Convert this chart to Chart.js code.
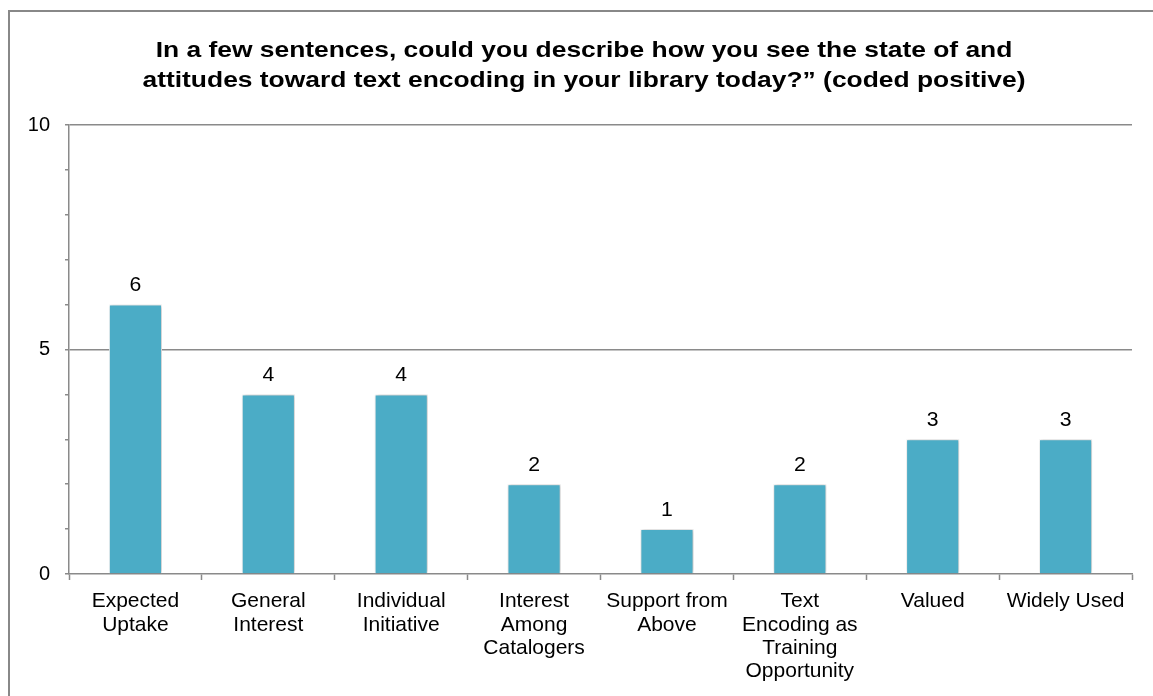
<!DOCTYPE html>
<html>
<head>
<meta charset="utf-8">
<script src="https://cdn.jsdelivr.net/npm/chart.js@4.4.1/dist/chart.umd.min.js"></script>
<style>
  html, body { margin: 0; padding: 0; background: #fff; overflow: hidden; }
  #wrap { position: absolute; left: 0; top: 0; width: 1153px; height: 696px; }
  #frame { position: absolute; left: 8px; top: 10px; width: 1200px; height: 750px; border-left: 2px solid #888; border-top: 2px solid #888; box-sizing: border-box; }
  canvas { position: absolute; left: 0; top: 0; }
</style>
</head>
<body>
<div id="wrap">
  <div id="frame"></div>
  <canvas id="c" width="1153" height="696"></canvas>
</div>
<script>
const titleLines = [
  "In a few sentences, could you describe how you see the state of and",
  "attitudes toward text encoding in your library today?\u201d (coded positive)"
];
const categories = [
  ["Expected", "Uptake"],
  ["General", "Interest"],
  ["Individual", "Initiative"],
  ["Interest", "Among", "Catalogers"],
  ["Support from", "Above"],
  ["Text", "Encoding as", "Training", "Opportunity"],
  ["Valued"],
  ["Widely Used"]
];
const counts = [6, 4, 4, 2, 1, 2, 3, 3];
const yMin = 0, yMax = 10, yMajor = 5, yMinor = 1;

const GRAY = '#8a8a8a';
const FONT = "'Liberation Sans', Arial, sans-serif";

const titlePlugin = {
  id: 'stretchedTitle',
  afterDraw(chart) {
    const ctx = chart.ctx;
    ctx.save();
    ctx.font = "bold 22px " + FONT;
    ctx.fillStyle = '#000';
    ctx.textAlign = 'center';
    ctx.textBaseline = 'alphabetic';
    const cx = 584, base = 57, gap = 30, sx = 1.2;
    titleLines.forEach((line, i) => {
      ctx.save();
      ctx.translate(cx, base + i * gap);
      ctx.scale(sx, 1);
      ctx.fillText(line, 0, 0);
      ctx.restore();
    });
    ctx.restore();
  }
};

const valueLabels = {
  id: 'valueLabels',
  afterDatasetsDraw(chart) {
    const ctx = chart.ctx;
    const meta = chart.getDatasetMeta(0);
    ctx.save();
    ctx.font = "20px " + FONT;
    ctx.fillStyle = '#000';
    ctx.textAlign = 'center';
    ctx.textBaseline = 'middle';
    meta.data.forEach((bar, i) => {
      ctx.save();
      ctx.translate(bar.x, bar.y - 19);
      ctx.scale(1.06, 1);
      ctx.fillText(String(counts[i]), 0, 0);
      ctx.restore();
    });
    ctx.restore();
  }
};

const barShadow = {
  id: 'barShadow',
  beforeDatasetsDraw(chart) {
    const ctx = chart.ctx;
    ctx.save();
    ctx.shadowColor = 'rgba(0,0,0,0.28)';
    ctx.shadowBlur = 4;
    ctx.shadowOffsetX = 1;
    ctx.shadowOffsetY = 0;
  },
  afterDatasetsDraw(chart) {
    chart.ctx.restore();
  }
};

new Chart(document.getElementById('c'), {
  type: 'bar',
  data: {
    labels: categories,
    datasets: [{
      data: counts,
      backgroundColor: '#4BACC6',
      borderColor: '#ffffff',
      borderWidth: 1,
      barPercentage: 0.4,
      categoryPercentage: 1.0
    }]
  },
  options: {
    responsive: false,
    animation: false,
    layout: { padding: { left: 0, right: 21, top: 125, bottom: 0 } },
    plugins: {
      legend: { display: false },
      tooltip: { enabled: false },
      title: { display: false }
    },
    scales: {
      x: {
        afterFit(scale) { scale.height = 122; },
        border: { display: true, color: GRAY, width: 1.5 },
        grid: {
          display: true,
          offset: true,
          drawOnChartArea: false,
          drawTicks: true,
          tickLength: 6,
          tickColor: GRAY,
          tickWidth: 1.5
        },
        ticks: {
          color: '#000',
          font: { family: FONT, size: 21, lineHeight: 1.11 },
          padding: 10,
          maxRotation: 0,
          autoSkip: false
        }
      },
      y: {
        min: yMin,
        max: yMax,
        afterFit(scale) { scale.width = 69; },
        border: { display: true, color: GRAY, width: 1.5 },
        grid: {
          color: (c) => (c.tick && c.tick.value % yMajor === 0 && c.tick.value !== yMin) ? GRAY : 'rgba(0,0,0,0)',
          lineWidth: 1.5,
          drawTicks: true,
          tickLength: 4,
          tickColor: GRAY,
          tickWidth: 1.5
        },
        ticks: {
          stepSize: yMinor,
          color: '#000',
          font: { family: FONT, size: 20 },
          padding: 15,
          callback: (v) => (v % yMajor === 0 ? String(v) : '')
        }
      }
    }
  },
  plugins: [barShadow, valueLabels, titlePlugin]
});
</script>
</body>
</html>
